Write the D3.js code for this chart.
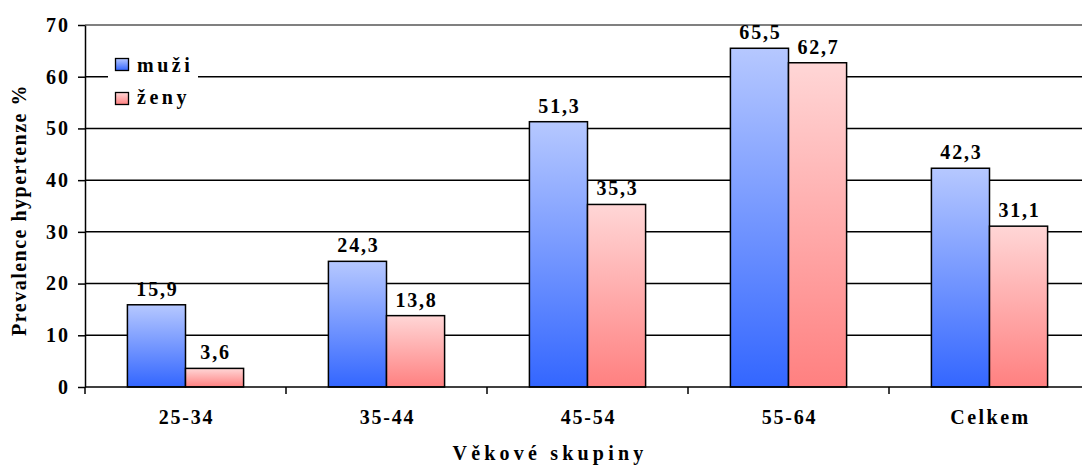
<!DOCTYPE html>
<html>
<head>
<meta charset="utf-8">
<script src="https://cdn.jsdelivr.net/npm/d3@7"></script>
<style>
  html, body { margin: 0; padding: 0; background: #fff; }
  svg { display: block; }
  svg text { font-family: "Liberation Serif", "Times New Roman", serif; font-weight: bold; fill: #000; }
</style>
</head>
<body>
<svg id="chart" width="1082" height="467"></svg>
<script>
// Prevalence of hypertension by age group and sex
const categories = ["25-34", "35-44", "45-54", "55-64", "Celkem"];
const seriesNames = ["muži", "ženy"];
const muzi = [15.9, 24.3, 51.3, 65.5, 42.3];
const zeny = [3.6, 13.8, 35.3, 62.7, 31.1];
const yTicks = [0, 10, 20, 30, 40, 50, 60, 70];

const svg = d3.select("#chart");
const plot = { left: 85, right: 1090, top: 25, bottom: 387 };

const x = d3.scaleBand().domain(categories).range([plot.left, plot.right]);
const inner = d3.scaleBand().domain(seriesNames).range([0, x.bandwidth()])
  .paddingInner(0).paddingOuter(0.73);
const y = d3.scaleLinear().domain([0, 70]).range([plot.bottom, plot.top]);

// vertical gradients, light at the top of each bar
const defs = svg.append("defs");
function grad(id, top, bottom) {
  const g = defs.append("linearGradient").attr("id", id)
    .attr("x1", 0).attr("y1", 0).attr("x2", 0).attr("y2", 1);
  g.append("stop").attr("offset", "0%").attr("stop-color", top);
  g.append("stop").attr("offset", "100%").attr("stop-color", bottom);
}
grad("gBlue", "#b6c8ff", "#3366ff");
grad("gPink", "#ffd6d6", "#ff8080");
const fills = { "muži": "url(#gBlue)", "ženy": "url(#gPink)" };

// horizontal gridlines
svg.append("g").selectAll("line").data(yTicks.filter(d => d > 0 && d < 70)).join("line")
  .attr("x1", plot.left).attr("x2", 1082)
  .attr("y1", d => y(d)).attr("y2", d => y(d))
  .attr("stroke", "#000").attr("stroke-width", 1.5);
svg.append("line").attr("x1", plot.left).attr("x2", 1082)
  .attr("y1", y(70)).attr("y2", y(70)).attr("stroke", "#808080").attr("stroke-width", 2.2);

// legend (white box sits over the gridline)
const lg = svg.append("g").attr("transform", "translate(108,44)");
lg.append("rect").attr("width", 90).attr("height", 70).attr("fill", "#fff");
seriesNames.forEach((s, i) => {
  lg.append("rect").attr("x", 7.5).attr("y", 14.5 + i * 34).attr("width", 13).attr("height", 12)
    .attr("fill", fills[s]).attr("stroke", "#000").attr("stroke-width", 1.3);
  lg.append("text").attr("x", 29).attr("y", 28 + i * 32).attr("font-size", 20)
    .attr("letter-spacing", 3.5).text(s);
});

// bars
const data = categories.map((c, i) => ({ c, vals: [
  { s: "muži", v: muzi[i] }, { s: "ženy", v: zeny[i] }
]}));
const groups = svg.append("g").selectAll("g").data(data).join("g")
  .attr("transform", d => `translate(${x(d.c)},0)`);
groups.selectAll("rect").data(d => d.vals).join("rect")
  .attr("x", d => inner(d.s)).attr("width", inner.bandwidth())
  .attr("y", d => y(d.v)).attr("height", d => y(0) - y(d.v))
  .attr("fill", d => fills[d.s]).attr("stroke", "#000").attr("stroke-width", 1.5);
groups.selectAll("text").data(d => d.vals).join("text")
  .attr("x", d => inner(d.s) + inner.bandwidth() / 2 + 1)
  .attr("y", d => y(d.v) - 9)
  .attr("text-anchor", "middle").attr("font-size", 20).attr("letter-spacing", 1.8)
  .text(d => d3.format(".1f")(d.v).replace(".", ","));

// y axis
const yAxis = d3.axisLeft(y).tickValues(yTicks).tickSize(7).tickSizeOuter(0)
  .tickPadding(10).tickFormat(d3.format("d"));
const ya = svg.append("g").attr("transform", `translate(${plot.left},0)`).call(yAxis);
ya.select(".domain").attr("stroke", "#000").attr("stroke-width", 1.5);
ya.selectAll(".tick line").attr("stroke", "#000").attr("stroke-width", 1.5);
ya.selectAll("text").attr("font-size", 20).attr("font-family", null).attr("fill", null)
  .attr("letter-spacing", 2).attr("dx", 2);

// x axis
const xAxis = d3.axisBottom(x).tickSize(0).tickPadding(23);
const xa = svg.append("g").attr("transform", `translate(0,${y(0)})`).call(xAxis);
xa.select(".domain").remove();
xa.selectAll("text").attr("font-size", 20).attr("font-family", null).attr("fill", null)
  .attr("letter-spacing", d => d === "Celkem" ? 2.5 : 1.8).attr("dx", 1);
svg.append("line").attr("x1", plot.left).attr("x2", 1082)
  .attr("y1", y(0)).attr("y2", y(0)).attr("stroke", "#000").attr("stroke-width", 1.5);
const bounds = categories.map(c => x(c)).concat([x.range()[1]]);
svg.append("g").selectAll("line").data(bounds).join("line")
  .attr("x1", d => d).attr("x2", d => d).attr("y1", y(0)).attr("y2", y(0) + 7)
  .attr("stroke", "#000").attr("stroke-width", 1.5);

// axis titles
svg.append("text").attr("x", 550).attr("y", 460)
  .attr("text-anchor", "middle").attr("font-size", 20).attr("letter-spacing", 4.2)
  .text("Věkové skupiny");
svg.append("text").attr("transform", `translate(26,${210}) rotate(-90)`)
  .attr("text-anchor", "middle").attr("font-size", 20).attr("letter-spacing", 1.5)
  .text("Prevalence hypertenze %");
</script>
</body>
</html>
